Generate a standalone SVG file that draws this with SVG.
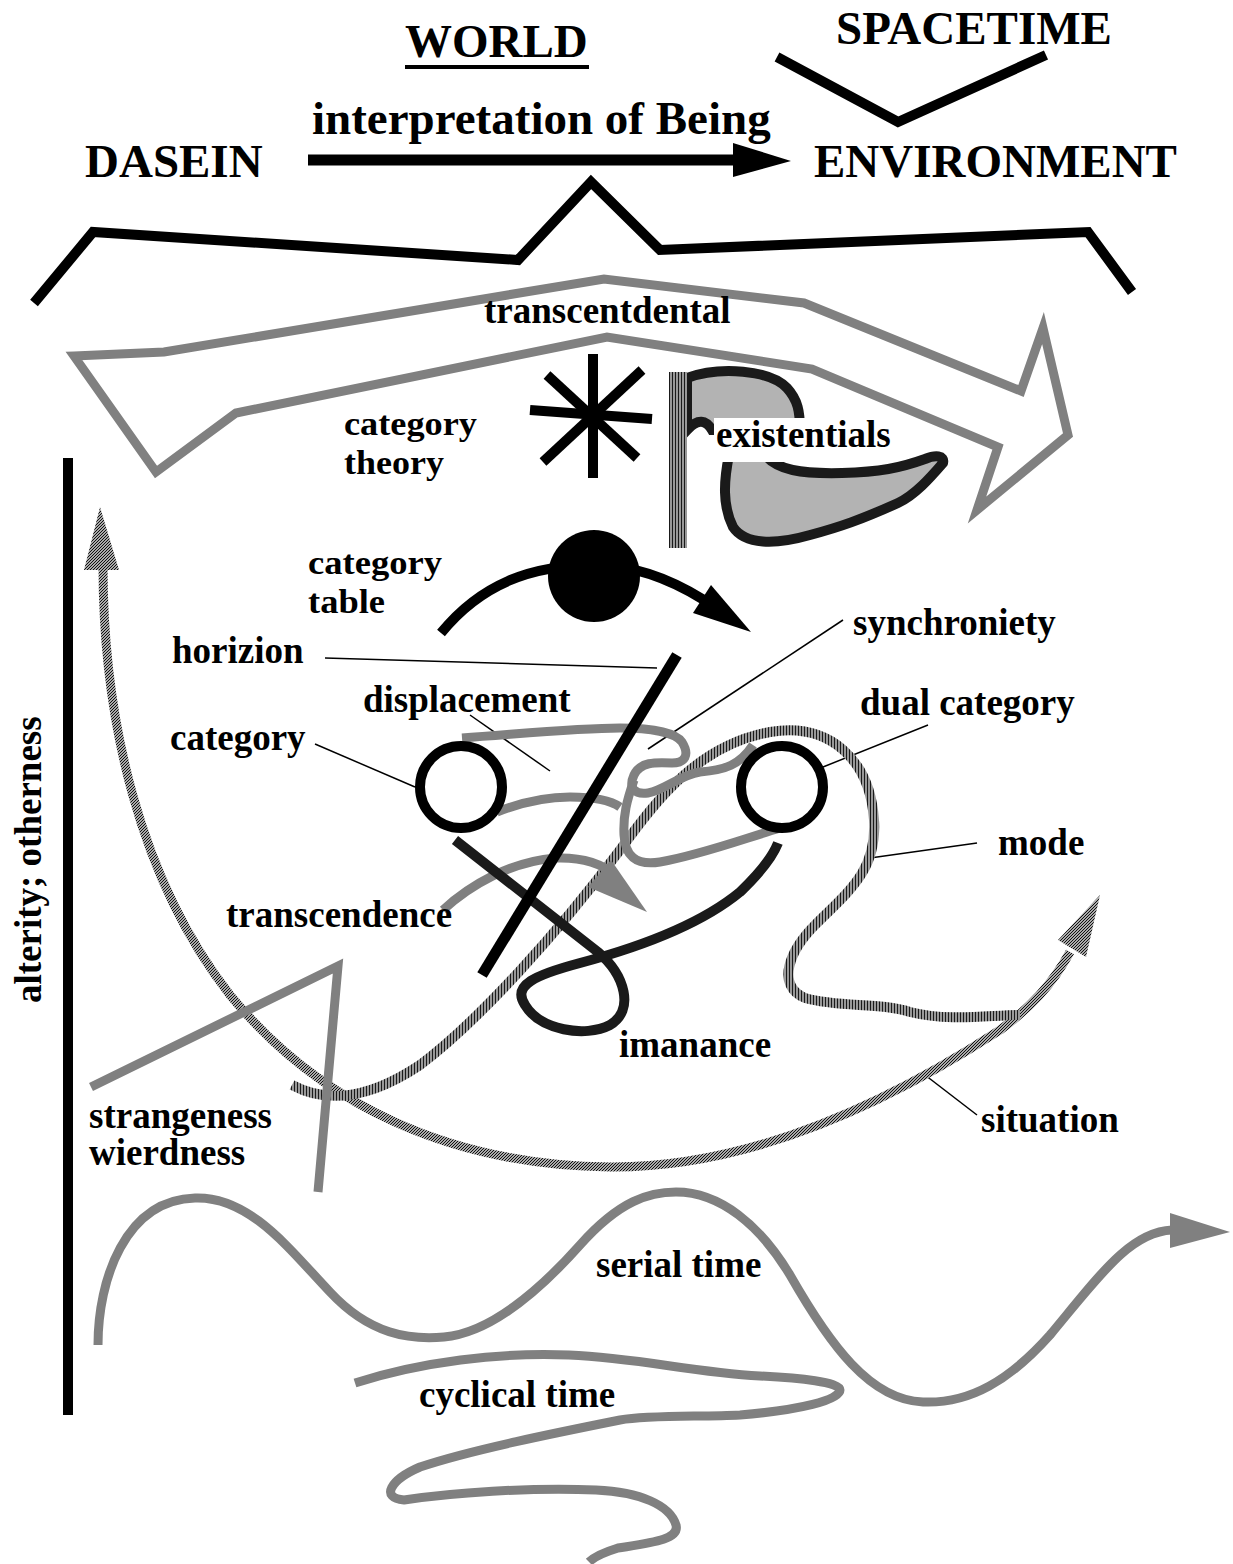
<svg xmlns="http://www.w3.org/2000/svg" width="1233" height="1564" viewBox="0 0 1233 1564">
<style>
.t{font-family:"Liberation Serif","Times New Roman",serif;font-weight:bold;font-size:37px;fill:#000}
.sm{font-size:34px}
.big{font-size:47px}
.gray{fill:none;stroke:#808080;stroke-width:9}
.blk{fill:none;stroke:#000;stroke-width:10}
.dark{fill:none;stroke:#1a1a1a;stroke-width:10}
.lead{fill:none;stroke:#000;stroke-width:1.5}
.vh{fill:none;stroke:url(#vstripe);stroke-width:10}
.dh{fill:none;stroke:url(#dhatch);stroke-width:9}
</style>
<defs>
<pattern id="vstripe" width="3" height="10" patternUnits="userSpaceOnUse"><rect width="3" height="10" fill="#999"/><rect width="1" height="10" fill="#1a1a1a"/></pattern>
<pattern id="dhatch" width="3" height="3" patternUnits="userSpaceOnUse"><rect width="3" height="3" fill="#aaa"/><path d="M-1,1 L1,-1 M0,3 L3,0 M2,4 L4,2" stroke="#111" stroke-width="1"/></pattern>
</defs>
<rect width="1233" height="1564" fill="#fff"/>

<g id="header">
<text class="t big" x="836" y="44">SPACETIME</text>
<text class="t big" x="405" y="57">WORLD</text>
<rect x="405" y="65" width="184" height="4" fill="#000"/>
<text class="t big" x="312" y="134">interpretation of Being</text>
<text class="t big" x="85" y="177">DASEIN</text>
<text class="t big" x="814" y="177">ENVIRONMENT</text>
<polyline class="blk" points="777,57 898,122 1046,55"/>
<polyline class="blk" points="34,303 93,232 518,260 591,182 660,250 1088,232 1132,292"/>
</g>

<g id="connectors">
<line x1="308" y1="160" x2="740" y2="160" stroke="#000" stroke-width="11"/>
<polygon points="733,143 791,161 733,177" fill="#000"/>
<line class="lead" x1="325" y1="658" x2="657" y2="668"/>
<line class="lead" x1="315" y1="744" x2="415" y2="787"/>
<line class="lead" x1="470" y1="715" x2="550" y2="771"/>
<line class="lead" x1="843" y1="620" x2="648" y2="749"/>
<line class="lead" x1="928" y1="725" x2="823" y2="767"/>
<line class="lead" x1="977" y1="843" x2="870" y2="858"/>
<line class="lead" x1="977" y1="1115" x2="925" y2="1075"/>
</g>

<g id="transcendental">
<polygon class="gray" points="74,356 164,352 604,279 804,303 1021,391 1043,328 1068,435 977,510 998,447 812,369 607,337 236,413 156,472" stroke-linejoin="miter"/>
<text class="t" x="484" y="323">transcentdental</text>
</g>

<g id="category-theory">
<g class="blk">
<line x1="593" y1="354" x2="593" y2="478"/>
<line x1="530" y1="410" x2="652" y2="419"/>
<line x1="547" y1="375" x2="637" y2="458"/>
<line x1="642" y1="370" x2="543" y2="462"/>
</g>
<text class="t sm" x="344" y="435" textLength="133" lengthAdjust="spacingAndGlyphs">category</text>
<text class="t sm" x="344" y="474" textLength="100" lengthAdjust="spacingAndGlyphs">theory</text>
</g>

<g id="existentials">
<path d="M687,378 C720,366 770,370 787,388 C798,400 800,412 800,430 L712,430 C706,420 698,418 687,430 Z" fill="#b3b3b3" stroke="#1a1a1a" stroke-width="10"/>
<path d="M729,455 C724,480 722,505 733,527 C745,545 775,545 810,535 C840,527 860,520 898,503 C915,495 930,478 943,463 C945,455 935,455 925,459 C900,468 880,472 842,473 C800,474 778,470 765,455 Z" fill="#b3b3b3" stroke="#1a1a1a" stroke-width="10"/>
<rect x="669" y="372" width="18" height="176" fill="url(#vstripe)"/>
<rect x="714" y="418" width="178" height="44" fill="#fff"/>
<text class="t" x="716" y="447">existentials</text>
</g>

<g id="situation">
<path class="dh" d="M103,566 C103,720 140,880 230,995 C320,1105 450,1165 610,1167 C760,1168 900,1095 1000,1030 C1030,1008 1052,985 1070,952"/>
<polygon points="84,570 100,507 119,570" fill="url(#dhatch)"/>
<polygon points="1058,940 1100,895 1086,957" fill="url(#dhatch)"/>
<text class="t" x="981" y="1132">situation</text>
</g>

<g id="mode">
<path class="vh" d="M292,1085 C320,1100 360,1105 420,1065 C480,1020 560,930 620,850 C660,795 700,745 770,732 C830,722 870,760 874,820 C877,870 850,890 815,925 C790,950 775,985 805,998 C840,1008 880,1002 910,1012 C950,1022 990,1015 1020,1015"/>
<text class="t" x="998" y="855">mode</text>
</g>

<g id="strangeness">
<polyline class="gray" points="91,1087 338,966 318,1192" stroke-linejoin="miter"/>
<text class="t"><tspan x="89" y="1128">strangeness</tspan><tspan x="89" y="1165">wierdness</tspan></text>
</g>

<g id="synchroniety">
<path class="gray" d="M462,738 C530,733 580,728 620,728 C650,728 675,732 682,742 C690,755 685,763 672,763 C655,762 640,762 634,775 C628,788 635,795 648,793 C665,790 680,775 700,772 C725,770 740,765 753,745"/>
<path class="gray" d="M497,812 C520,803 545,797 570,797 C595,797 610,800 620,807"/>
<path class="gray" d="M780,828 C740,840 700,855 660,862 C635,866 625,855 624,835 C623,815 627,800 634,780"/>
<text class="t" x="853" y="635">synchroniety</text>
<text class="t" x="363" y="712">displacement</text>
</g>

<g id="transcendence">
<path class="gray" d="M443,910 C470,885 510,862 555,858 C580,857 600,862 615,875"/>
<polygon points="588,887 611,860 647,912" fill="#808080"/>
<text class="t" x="226" y="927">transcendence</text>
</g>

<g id="imanance">
<path class="dark" d="M455,840 L598,952 C625,975 635,1010 610,1025 C585,1038 540,1030 525,1005 C512,985 535,975 580,963 C640,947 700,925 740,892 C760,873 772,858 778,843"/>
<text class="t" x="619" y="1057">imanance</text>
</g>

<g id="horizion">
<line x1="677" y1="655" x2="482" y2="975" stroke="#000" stroke-width="11"/>
<text class="t" x="172" y="663">horizion</text>
</g>

<g id="category">
<circle cx="461" cy="787" r="41" class="blk"/>
<text class="t" x="170" y="750">category</text>
</g>

<g id="dual-category">
<circle cx="782" cy="787" r="41" class="blk"/>
<text class="t" x="860" y="715">dual category</text>
</g>

<g id="category-table">
<path class="blk" d="M441,633 C480,585 530,565 594,565 C640,565 680,585 704,600"/>
<circle cx="594" cy="576" r="46" fill="#000"/>
<polygon points="693,613 711,585 751,632" fill="#000"/>
<text class="t sm" x="308" y="574" textLength="134" lengthAdjust="spacingAndGlyphs">category</text>
<text class="t sm" x="308" y="613" textLength="77" lengthAdjust="spacingAndGlyphs">table</text>
</g>

<g id="alterity">
<rect x="63" y="458" width="10" height="957" fill="#000"/>
<text class="t" transform="translate(41,1003) rotate(-90)">alterity; otherness</text>
</g>

<g id="serial-time">
<path class="gray" d="M98,1345 C98,1280 125,1200 195,1198 C250,1196 290,1250 330,1292 C370,1335 410,1340 444,1337 C490,1333 540,1290 580,1245 C620,1200 650,1192 676,1192 C720,1192 760,1225 790,1275 C830,1345 870,1400 923,1402 C970,1404 1010,1380 1050,1335 C1100,1275 1130,1232 1172,1230"/>
<polygon points="1170,1213 1230,1232 1170,1248" fill="#808080"/>
<text class="t" x="596" y="1277">serial time</text>
</g>

<g id="cyclical-time">
<path class="gray" d="M355,1383 C420,1362 500,1352 569,1355 C640,1358 690,1372 760,1376 C800,1378 840,1382 840,1390 C840,1400 800,1410 740,1415 C700,1417 650,1415 620,1420 C560,1432 470,1450 420,1467 C390,1480 380,1498 404,1500 C450,1493 530,1487 596,1490 C640,1492 670,1505 676,1525 C680,1540 650,1543 618,1548 C605,1552 595,1556 589,1562"/>
<text class="t" x="419" y="1407">cyclical time</text>
</g>
</svg>
